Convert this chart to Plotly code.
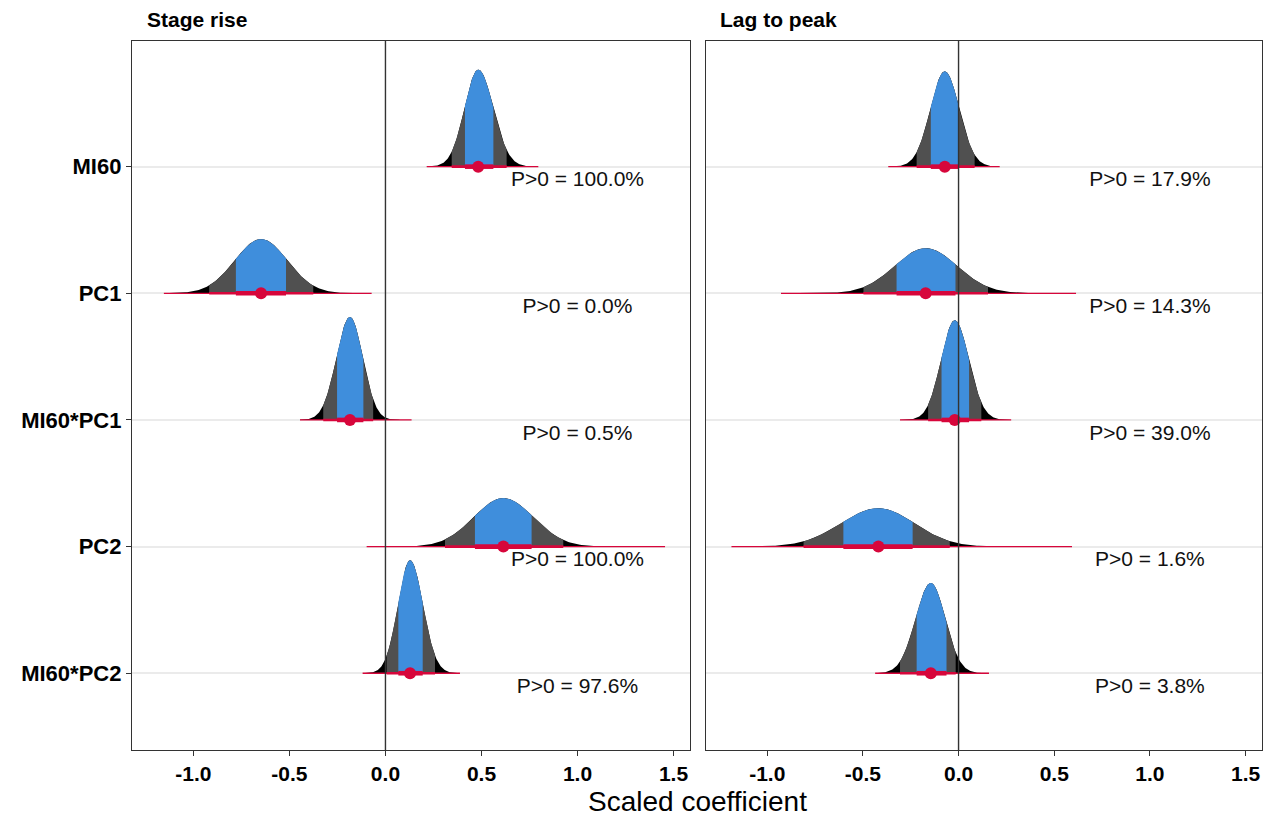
import numpy as np
import plotly.graph_objects as go

# ---------------- data ----------------
terms = ["MI60", "PC1", "MI60*PC1", "PC2", "MI60*PC2"]
facet_titles = ["Stage rise", "Lag to peak"]
tick_vals = [-1.0, -0.5, 0.0, 0.5, 1.0, 1.5]
tick_text = ["-1.0", "-0.5", "0.0", "0.5", "1.0", "1.5"]

# Stage rise posterior summaries (66% / 95% / 99% intervals, full range)
sr_median = [0.483, -0.648, -0.185, 0.614, 0.128]
sr_lo66 = [0.414, -0.779, -0.252, 0.466, 0.067]
sr_hi66 = [0.562, -0.518, -0.115, 0.761, 0.194]
sr_lo95 = [0.345, -0.918, -0.324, 0.310, 0.006]
sr_hi95 = [0.631, -0.376, -0.064, 0.926, 0.258]
sr_lo99 = [0.267, -0.990, -0.367, 0.188, -0.022]
sr_hi99 = [0.700, -0.280, -0.003, 1.030, 0.310]
sr_min = [0.215, -1.154, -0.445, -0.098, -0.119]
sr_max = [0.796, -0.072, 0.136, 1.456, 0.388]
sr_peak = [0.766, 0.428, 0.813, 0.383, 0.892]
sr_p_gt0 = ["100.0%", "0.0%", "0.5%", "100.0%", "97.6%"]

# Lag to peak posterior summaries
lp_median = [-0.072, -0.172, -0.020, -0.419, -0.145]
lp_lo66 = [-0.145, -0.324, -0.089, -0.602, -0.219]
lp_hi66 = [-0.002, -0.016, 0.055, -0.240, -0.063]
lp_lo95 = [-0.219, -0.497, -0.159, -0.810, -0.306]
lp_hi95 = [0.084, 0.154, 0.119, -0.046, -0.015]
lp_lo99 = [-0.254, -0.619, -0.202, -0.931, -0.350]
lp_hi99 = [0.145, 0.300, 0.189, 0.050, 0.074]
lp_min = [-0.367, -0.928, -0.306, -1.187, -0.436]
lp_max = [0.215, 0.614, 0.275, 0.593, 0.159]
lp_peak = [0.752, 0.356, 0.787, 0.303, 0.713]
lp_p_gt0 = ["17.9%", "14.3%", "39.0%", "1.6%", "3.8%"]

# ---------------- styling ----------------
FONT = "Liberation Sans, Arial, Helvetica, sans-serif"
BLUE = "#3F8EDC"
GRAY = "#505050"
BLACK = "#000000"
RED = "#D7063B"
W, H = 1275, 817

facets = [
    dict(median=sr_median, lo66=sr_lo66, hi66=sr_hi66, lo95=sr_lo95, hi95=sr_hi95,
         lo99=sr_lo99, hi99=sr_hi99, vmin=sr_min, vmax=sr_max, peak=sr_peak, p=sr_p_gt0),
    dict(median=lp_median, lo66=lp_lo66, hi66=lp_hi66, lo95=lp_lo95, hi95=lp_hi95,
         lo99=lp_lo99, hi99=lp_hi99, vmin=lp_min, vmax=lp_max, peak=lp_peak, p=lp_p_gt0),
]

row_pos = [5, 4, 3, 2, 1]

fig = go.Figure()


def slab_height(x, m, sl, sr, peak):
    s = np.where(x < m, sl, sr)
    return peak * np.exp(-0.5 * ((x - m) / s) ** 2)


for fi, f in enumerate(facets):
    xa = "x" if fi == 0 else "x2"
    ya = "y" if fi == 0 else "y2"
    for i, term in enumerate(terms):
        r = row_pos[i]
        m = f["median"][i]
        # spread on each side estimated from the 66% and 95% interval edges
        sl = 0.5 * ((m - f["lo66"][i]) / 0.954 + (m - f["lo95"][i]) / 1.96)
        sr = 0.5 * ((f["hi66"][i] - m) / 0.954 + (f["hi95"][i] - m) / 1.96)
        pk = f["peak"][i]
        for a, b, col in [(f["vmin"][i], f["vmax"][i], BLACK),
                          (f["lo95"][i], f["hi95"][i], GRAY),
                          (f["lo66"][i], f["hi66"][i], BLUE)]:
            xs = np.linspace(a, b, 180)
            ys = r + slab_height(xs, m, sl, sr, pk)
            px = np.concatenate([xs, xs[::-1]])
            py = np.concatenate([ys, np.full_like(xs, r)])
            fig.add_trace(go.Scatter(x=px, y=py, xaxis=xa, yaxis=ya, mode="lines",
                                     fill="toself", fillcolor=col, line=dict(width=0, color=col),
                                     hoverinfo="skip", showlegend=False))
        # point interval
        for a, b, lw in [(f["vmin"][i], f["vmax"][i], 1.3),
                         (f["lo95"][i], f["hi95"][i], 2.6),
                         (f["lo66"][i], f["hi66"][i], 4.6)]:
            fig.add_trace(go.Scatter(x=[a, b], y=[r, r], xaxis=xa, yaxis=ya, mode="lines",
                                     line=dict(color=RED, width=lw), hoverinfo="skip",
                                     showlegend=False))
        fig.add_trace(go.Scatter(x=[m], y=[r], xaxis=xa, yaxis=ya, mode="markers",
                                 marker=dict(color=RED, size=12, line=dict(width=0)),
                                 showlegend=False, hoverinfo="skip"))
    # P>0 labels
    fig.add_trace(go.Scatter(x=[1.0] * len(terms), y=[r - 0.113 for r in row_pos],
                             xaxis=xa, yaxis=ya, mode="text",
                             text=["P>0 = " + p for p in f["p"]],
                             textposition="middle center",
                             textfont=dict(family=FONT, size=21, color="#111111"),
                             showlegend=False, hoverinfo="skip"))

# ---------------- layout ----------------
px_l = (132, 690)
px_r = (706, 1262)
top_px, bot_px = 41, 750
ydom = [1 - bot_px / H, 1 - top_px / H]
xr = [-1.320, 1.586]
yr = [0.394, 5.992]

axis_common = dict(range=xr, tickvals=tick_vals, ticktext=tick_text, showgrid=False,
                   zeroline=False, showline=True, mirror=True, linecolor="#333333", linewidth=1.3,
                   ticks="outside", ticklen=5, tickwidth=1.2, tickcolor="#333333",
                   tickfont=dict(family=FONT, size=21, color="#000000", weight="bold"))

yaxis_common = dict(range=yr, tickvals=row_pos, showgrid=True, gridcolor="#EBEBEB", gridwidth=1.6,
                    zeroline=False, showline=True, mirror=True, linecolor="#333333", linewidth=1.3)

fig.update_layout(
    width=W, height=H,
    margin=dict(l=0, r=0, t=0, b=0),
    paper_bgcolor="white", plot_bgcolor="white",
    xaxis=dict(domain=[px_l[0] / W, px_l[1] / W], anchor="y", **axis_common),
    xaxis2=dict(domain=[px_r[0] / W, px_r[1] / W], anchor="y2", **axis_common),
    yaxis=dict(domain=ydom, anchor="x", ticktext=terms, ticks="outside", ticklen=5, tickwidth=1.2,
               tickcolor="#333333",
               tickfont=dict(family=FONT, size=22, color="#000000", weight="bold"), **yaxis_common),
    yaxis2=dict(domain=ydom, anchor="x2", showticklabels=False, ticks="", **yaxis_common),
    shapes=[
        dict(type="line", xref="x", yref="y domain", x0=0, x1=0, y0=0, y1=1,
             line=dict(color="#333333", width=1.4), layer="above"),
        dict(type="line", xref="x2", yref="y2 domain", x0=0, x1=0, y0=0, y1=1,
             line=dict(color="#333333", width=1.4), layer="above"),
    ],
    annotations=[
        dict(text="<b>" + facet_titles[0] + "</b>", x=145 / W, y=1 - 20 / H, xref="paper",
             yref="paper", xanchor="left", yanchor="middle", showarrow=False,
             font=dict(family=FONT, size=21, color="#000000")),
        dict(text="<b>" + facet_titles[1] + "</b>", x=718 / W, y=1 - 20 / H, xref="paper",
             yref="paper", xanchor="left", yanchor="middle", showarrow=False,
             font=dict(family=FONT, size=21, color="#000000")),
        dict(text="Scaled coefficient", x=(px_l[0] + px_r[1]) / 2 / W, y=1 - 801 / H,
             xref="paper", yref="paper", xanchor="center", yanchor="middle", showarrow=False,
             font=dict(family=FONT, size=28, color="#000000")),
    ],
)

fig.write_html("out.html")
